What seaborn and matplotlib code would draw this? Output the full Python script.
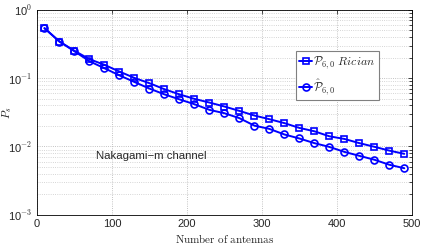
import numpy as np
import pandas as pd
import matplotlib
matplotlib.use("Agg")
import matplotlib.pyplot as plt
import matplotlib.ticker as mticker
import seaborn as sns

# number of antennas
antennas = [10, 30, 50, 70, 90, 110, 130, 150, 170, 190, 210, 230, 250,
            270, 290, 310, 330, 350, 370, 390, 410, 430, 450, 470, 490]

# P_{6,0} Rician (square markers)
p_rician = [0.54, 0.344, 0.252, 0.19, 0.157, 0.125, 0.101, 0.0845, 0.069,
            0.058, 0.0498, 0.044, 0.0385, 0.0332, 0.0284, 0.0251, 0.0220,
            0.0187, 0.0167, 0.0141, 0.0129, 0.0112, 0.0099, 0.0087, 0.0078]

# hat P_{6,0} (circle markers)
p_hat = [0.54, 0.344, 0.248, 0.177, 0.14, 0.110, 0.088, 0.0705, 0.058,
         0.049, 0.0416, 0.0344, 0.0307, 0.026, 0.0202, 0.0181, 0.015,
         0.0131, 0.0112, 0.00986, 0.00834, 0.0073, 0.0064, 0.0054, 0.0048]

df = pd.DataFrame({'N': antennas, 'rician': p_rician, 'hat': p_hat})

sns.set_style("white")
plt.rcParams['font.family'] = ['Liberation Sans', 'DejaVu Sans']
plt.rcParams['mathtext.fontset'] = 'cm'

fig = plt.figure(figsize=(4.25, 2.48), dpi=100)
ax = fig.add_axes([0.087, 0.134, 0.882, 0.826])

blue = (0, 0, 1)
sns.lineplot(data=df, x='N', y='rician', ax=ax, color=blue, lw=1.4,
             marker='s', ms=4.5, mfc='none', mec=blue, mew=1.2,
             label=r'$\mathcal{P}_{6,0}\ Rician$')
sns.lineplot(data=df, x='N', y='hat', ax=ax, color=blue, lw=1.4,
             marker='o', ms=5, mfc='none', mec=blue, mew=1.2,
             label=r'$\hat{\mathcal{P}}_{6,0}$')

ax.set_yscale('log')
ax.set_xlim(0, 500)
ax.set_ylim(1e-3, 1)
ax.set_xticks([0, 100, 200, 300, 400, 500])
ax.yaxis.set_major_locator(mticker.LogLocator(base=10, numticks=10))
ax.yaxis.set_minor_locator(mticker.LogLocator(base=10, subs=np.arange(2, 10), numticks=10))
ax.yaxis.set_minor_formatter(mticker.NullFormatter())

def fmt(v, pos):
    e = int(round(np.log10(v)))
    return r'10$^{%d}$' % e
ax.yaxis.set_major_formatter(mticker.FuncFormatter(fmt))

ax.tick_params(which='both', direction='in', top=True, right=True,
               labelsize=8, length=3, width=0.6, pad=3)
ax.tick_params(which='minor', length=2)
ax.grid(True, which='major', axis='both', ls=':', lw=0.6, color='#b0b0b0')
ax.grid(True, which='minor', axis='y', ls=':', lw=0.6, color='#c8c8c8')
for s in ax.spines.values():
    s.set_linewidth(0.6)
    s.set_color('black')

ax.set_xlabel(r'$\mathrm{Number\ of\ antennas}$', fontsize=8, labelpad=2)
ax.set_ylabel(r'$P_s$', fontsize=8)
ax.yaxis.set_label_coords(-0.062, 0.5)

ax.text(79, 10 ** -2.137, 'Nakagami\u2212m channel', fontsize=8.2,
        va='center', ha='left')

leg = ax.legend(loc='upper left', bbox_to_anchor=(0.69, 0.798), fontsize=8.5,
                frameon=True, fancybox=False, framealpha=1, edgecolor='#808080',
                handlelength=1.1, handletextpad=0.1, borderpad=0.3,
                labelspacing=0.5, borderaxespad=0)
leg.get_frame().set_linewidth(0.8)

fig.savefig('out.png', dpi=100)
